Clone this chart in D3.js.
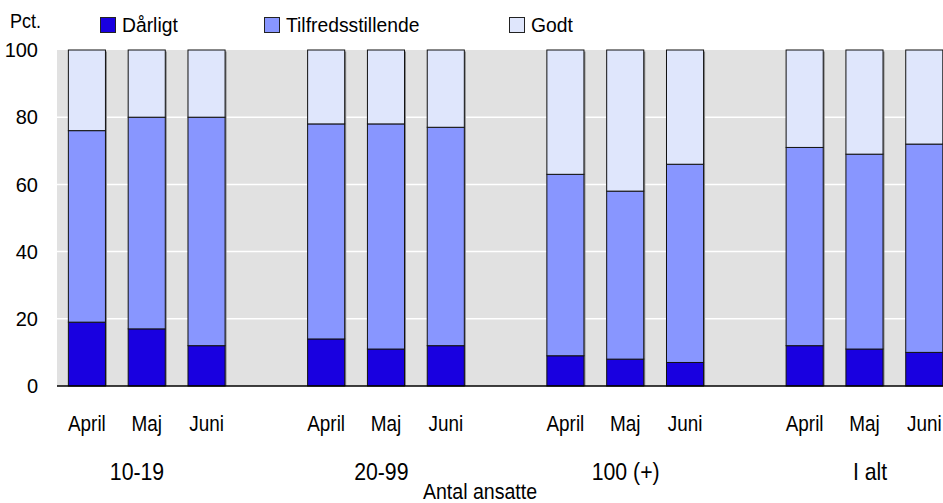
<!DOCTYPE html>
<html>
<head>
<meta charset="utf-8">
<script src="https://cdn.jsdelivr.net/npm/d3@7"></script>
<style>
  body { margin: 0; background: #fff; }
  svg { display: block; font-family: "Liberation Sans", Arial, sans-serif; }
</style>
</head>
<body>
<div class="chart"></div>
<script>
const groups = ['10-19', '20-99', '100 (+)', 'I alt'];
const months = ['April', 'Maj', 'Juni'];
const series = ['Dårligt', 'Tilfredsstillende', 'Godt'];

// andel i pct. pr. gruppe x måned
const daarligt = [19, 17, 12, 14, 11, 12, 9, 8, 7, 12, 11, 10];
const tilfreds = [57, 63, 68, 64, 67, 65, 54, 50, 59, 59, 58, 62];
const godt     = [24, 20, 20, 22, 22, 23, 37, 42, 34, 29, 31, 28];

const yTicks = [0, 20, 40, 60, 80, 100];

const w = 943;
const h = 503;
const colors = ['#1900e0', '#8896ff', '#dfe6fc'];

// one slot per bar plus an empty slot after each group
const slots = [];
groups.forEach(g => {
    months.forEach(m => slots.push(g + '|' + m));
    slots.push(g + '|gap');
});

const rows = [];
groups.forEach((g, gi) => {
    months.forEach((m, mi) => {
        const i = gi * 3 + mi;
        rows.push({key: g + '|' + m, month: m, 'Dårligt': daarligt[i], 'Tilfredsstillende': tilfreds[i], 'Godt': godt[i]});
    });
});

// text in the original is a narrow face, so squeeze it horizontally
function squeeze(sel, fx, fy, s) {
    sel.attr('transform', (d, i) => 'translate(' + fx(d, i) + ',' + fy(d, i) + ') scale(' + s + ',1)');
}

const svg = d3.select('.chart').append('svg')
    .attr('width', w)
    .attr('height', h);

const x = d3.scaleBand()
    .domain(slots)
    .range([57, 1014])
    .paddingInner(0.38)
    .paddingOuter(0.19);

const y = d3.scaleLinear()
    .domain([0, 100])
    .range([386, 50]);

// grey plot background
svg.append('rect')
    .attr('x', 57)
    .attr('y', y(100))
    .attr('width', w - 57)
    .attr('height', y(0) - y(100))
    .attr('fill', '#e1e1e1');

// white gridlines
svg.selectAll('.grid')
    .data(yTicks.filter(d => d > 0 && d < 100))
    .enter()
    .append('line')
    .attr('x1', 57)
    .attr('x2', w)
    .attr('y1', d => y(d))
    .attr('y2', d => y(d))
    .attr('stroke', '#fff')
    .attr('stroke-width', 1.5);

// y tick labels
svg.selectAll('.ytick')
    .data(yTicks)
    .enter()
    .append('text')
    .attr('x', 38)
    .attr('y', d => y(d))
    .attr('dy', '0.36em')
    .attr('text-anchor', 'end')
    .style('font-size', '20px')
    .text(d => d);

svg.append('text')
    .call(squeeze, () => 10, () => 28, 0.9)
    .style('font-size', '20px')
    .text('Pct.');

const stack = d3.stack().keys(series)(rows);

// soft shadow behind each bar
svg.selectAll('.shadow')
    .data(rows)
    .enter()
    .append('rect')
    .attr('x', d => x(d.key) + 1.5)
    .attr('y', y(100) + 1.5)
    .attr('width', x.bandwidth())
    .attr('height', y(0) - y(100) - 1.5)
    .attr('fill', '#8a8a8a');

const layer = svg.selectAll('.layer')
    .data(stack)
    .enter()
    .append('g')
    .attr('fill', (d, i) => colors[i]);

layer.selectAll('rect')
    .data(d => d)
    .enter()
    .append('rect')
    .attr('x', d => x(d.data.key))
    .attr('y', d => y(d[1]))
    .attr('width', x.bandwidth())
    .attr('height', d => y(d[0]) - y(d[1]))
    .attr('stroke', '#111')
    .attr('stroke-width', 1);

// baseline
svg.append('line')
    .attr('x1', 57)
    .attr('x2', w)
    .attr('y1', y(0))
    .attr('y2', y(0))
    .attr('stroke', '#000')
    .attr('stroke-width', 1.5);

// month labels
svg.selectAll('.month')
    .data(rows)
    .enter()
    .append('text')
    .call(squeeze, d => x(d.key) + x.bandwidth() / 2, () => 431, 0.86)
    .attr('text-anchor', 'middle')
    .style('font-size', '22px')
    .text(d => d.month);

// group labels
const gx = d3.scalePoint()
    .domain(groups)
    .range([137, 870]);

svg.selectAll('.group')
    .data(groups)
    .enter()
    .append('text')
    .call(squeeze, d => gx(d), () => 480, 0.885)
    .attr('text-anchor', 'middle')
    .style('font-size', '24px')
    .text(d => d);

svg.append('text')
    .call(squeeze, () => 480, () => 499, 0.89)
    .attr('text-anchor', 'middle')
    .style('font-size', '22px')
    .text('Antal ansatte');

// legend
const legendX = [100, 264, 509];
const lg = svg.selectAll('.legend')
    .data(series)
    .enter()
    .append('g')
    .attr('transform', (d, i) => 'translate(' + legendX[i] + ',17)');

lg.append('rect')
    .attr('x', 0.5)
    .attr('y', 0.5)
    .attr('width', 15)
    .attr('height', 15)
    .attr('fill', (d, i) => colors[i])
    .attr('stroke', '#222');

lg.append('text')
    .call(squeeze, () => 22, () => 15, 0.92)
    .style('font-size', '21px')
    .text(d => d);
</script>
</body>
</html>
